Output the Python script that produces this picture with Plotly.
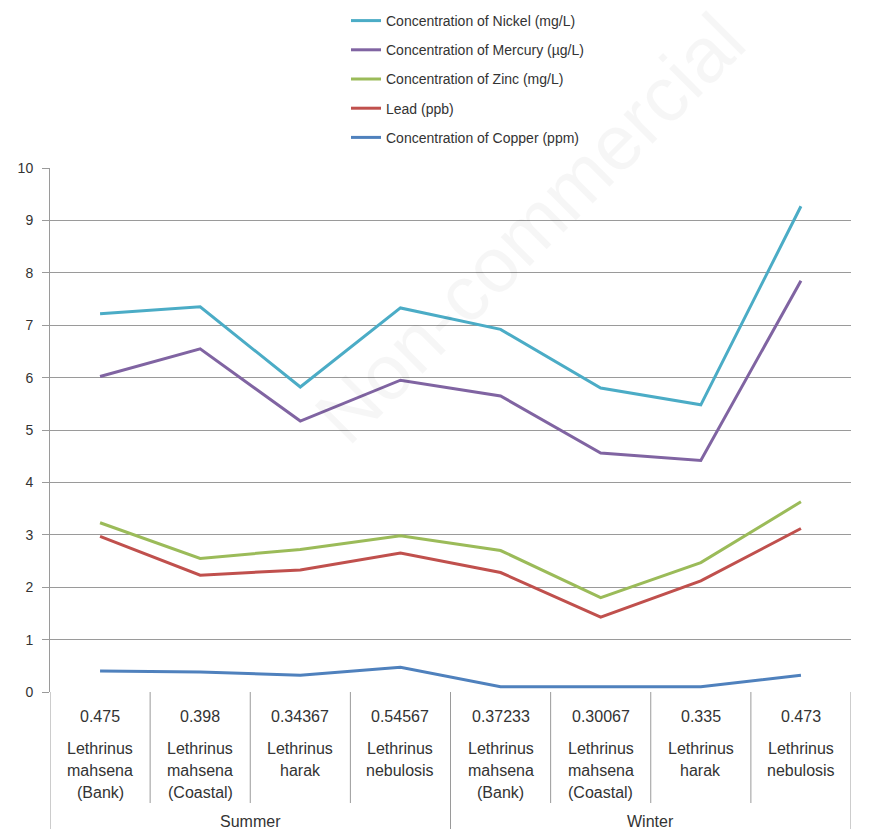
import plotly.graph_objects as go

categories = ["Lethrinus mahsena (Bank)", "Lethrinus mahsena (Coastal)", "Lethrinus harak",
              "Lethrinus nebulosis", "Lethrinus mahsena (Bank)", "Lethrinus mahsena (Coastal)",
              "Lethrinus harak", "Lethrinus nebulosis"]
cat_lines = [["Lethrinus", "mahsena", "(Bank)"], ["Lethrinus", "mahsena", "(Coastal)"],
             ["Lethrinus", "harak"], ["Lethrinus", "nebulosis"],
             ["Lethrinus", "mahsena", "(Bank)"], ["Lethrinus", "mahsena", "(Coastal)"],
             ["Lethrinus", "harak"], ["Lethrinus", "nebulosis"]]
top_row = ["0.475", "0.398", "0.34367", "0.54567", "0.37233", "0.30067", "0.335", "0.473"]
seasons = ["Summer", "Winter"]

nickel = [7.22, 7.35, 5.82, 7.33, 6.92, 5.80, 5.48, 9.27]
mercury = [6.02, 6.55, 5.17, 5.95, 5.65, 4.56, 4.42, 7.85]
zinc = [3.23, 2.55, 2.72, 2.98, 2.70, 1.80, 2.47, 3.63]
lead = [2.97, 2.23, 2.33, 2.65, 2.28, 1.43, 2.12, 3.12]
copper = [0.40, 0.38, 0.32, 0.47, 0.10, 0.10, 0.10, 0.32]

series = [
    ("Concentration of Nickel (mg/L)", nickel, "#4BACC6"),
    ("Concentration of Mercury (µg/L)", mercury, "#8064A2"),
    ("Concentration of Zinc (mg/L)", zinc, "#9BBB59"),
    ("Lead (ppb)", lead, "#C0504D"),
    ("Concentration of Copper (ppm)", copper, "#4F81BD"),
]

FONT = "Liberation Sans, Arial, sans-serif"
TXT = "#333333"
GRID = "#9a9a9a"

x = list(range(len(categories)))
fig = go.Figure()
for i, (name, vals, col) in enumerate(series):
    fig.add_trace(go.Scatter(x=x, y=vals, mode="lines", name=name,
                             legendgroup=f"g{i}",
                             line=dict(color=col, width=3),
                             hovertext=categories))

# plot area in screen pixels: top 168, bottom 692 (page has an 8px body margin)
H = 524.0
def py(p):
    return (692 - p) / H

shapes = []
for k in range(len(categories) + 1):
    xv = k - 0.5
    full = (k == 0 or k == len(categories) or k == 4)
    shapes.append(dict(type="line", xref="x", yref="paper", x0=xv, x1=xv,
                       y0=0, y1=py(829) if full else py(803),
                       line=dict(color=GRID, width=1)))

annotations = []
TF = dict(family=FONT, size=16, color=TXT)
for i in range(len(categories)):
    annotations.append(dict(x=i, y=py(716), xref="x", yref="paper", text=top_row[i],
                            showarrow=False, font=TF, xanchor="center", yanchor="middle"))
    for j, ln in enumerate(cat_lines[i]):
        annotations.append(dict(x=i, y=py(748 + 22 * j), xref="x", yref="paper", text=ln,
                                showarrow=False, font=TF, xanchor="center", yanchor="middle"))
for s, name in enumerate(seasons):
    annotations.append(dict(x=1.5 + 4 * s, y=py(821), xref="x", yref="paper", text=name,
                            showarrow=False, font=TF, xanchor="center", yanchor="middle"))
# faint watermark
annotations.append(dict(x=(530 - 50) / 801.0, y=py(228), xref="paper", yref="paper",
                        text="Non-commercial", showarrow=False, textangle=-45,
                        font=dict(family=FONT, size=78, color="rgba(0,0,0,0.035)"),
                        xanchor="center", yanchor="middle"))

fig.update_layout(
    width=861, height=821,
    margin=dict(l=42, r=18, t=160, b=137, autoexpand=False),
    paper_bgcolor="white", plot_bgcolor="white",
    font=dict(family=FONT, size=12, color=TXT),
    showlegend=True,
    legend=dict(x=(346 - 50) / 801.0, y=py(5), xanchor="left", yanchor="top",
                orientation="v", tracegroupgap=8,
                font=dict(family=FONT, size=14, color=TXT),
                bgcolor="rgba(0,0,0,0)"),
    xaxis=dict(range=[-0.5, len(categories) - 0.5], showticklabels=False, showgrid=False,
               zeroline=False, showline=False, ticks=""),
    yaxis=dict(range=[0, 10], dtick=1, tick0=0, showgrid=True, gridcolor=GRID, gridwidth=1,
               zeroline=False, showline=True, linecolor=GRID, linewidth=1,
               ticks="outside", ticklen=7, tickcolor=GRID, ticklabelstandoff=6,
               tickfont=dict(family=FONT, size=14, color=TXT)),
    shapes=shapes,
    annotations=annotations,
)

fig.write_html("out.html")
